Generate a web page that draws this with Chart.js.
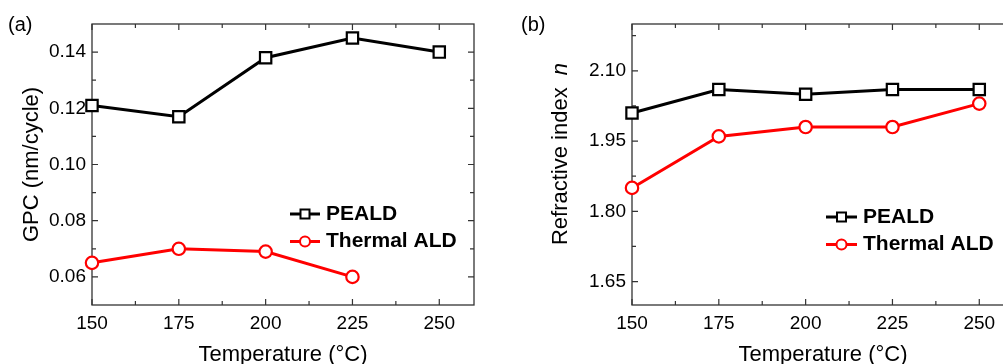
<!DOCTYPE html>
<html><head><meta charset="utf-8">
<script src="https://cdn.jsdelivr.net/npm/chart.js@4.4.0/dist/chart.umd.min.js"></script>
<style>
html,body{margin:0;padding:0;background:#fff;width:1003px;height:364px;overflow:hidden;position:relative;font-family:"Liberation Sans",Arial,sans-serif;}
#a{position:absolute;left:0;top:0;width:500px;height:364px;}
#b{position:absolute;left:500px;top:0;width:560px;height:364px;}
.lab{position:absolute;font-size:20px;color:#000;line-height:20px;}
</style></head><body>
<div id="a"><canvas id="ca" width="500" height="364"></canvas></div>
<div id="b"><canvas id="cb" width="560" height="364"></canvas></div>
<div class="lab" style="left:8px;top:14px">(a)</div>
<div class="lab" style="left:521px;top:14px">(b)</div>
<script>
// ---- data ----
const temperatures = [150, 175, 200, 225, 250];
const seriesNames = ['PEALD', 'Thermal ALD'];
const gpcPEALD = [0.121, 0.117, 0.138, 0.145, 0.140];
const gpcThermal = [0.065, 0.070, 0.069, 0.060, null];
const nPEALD = [2.01, 2.06, 2.05, 2.06, 2.06];
const nThermal = [1.85, 1.96, 1.98, 1.98, 2.03];
const xTicks = [150, 175, 200, 225, 250];
const xMinor = [162.5, 187.5, 212.5, 237.5];
const gpcTicks = [0.06, 0.08, 0.10, 0.12, 0.14];
const gpcMinor = [0.07, 0.09, 0.11, 0.13];
const nTicks = [1.65, 1.80, 1.95, 2.10];
const nMinor = [1.725, 1.875, 2.025, 2.175];

const FONT = '"Liberation Sans", Arial, sans-serif';

const frameTicks = {
  id: 'frameTicks',
  beforeDatasetsDraw(chart, args, o) {
    const {ctx, chartArea: a} = chart;
    const xs = chart.scales.x, ys = chart.scales.y;
    ctx.save();
    ctx.strokeStyle = '#333';
    ctx.lineWidth = 1.3;
    ctx.strokeRect(a.left, a.top, a.right - a.left, a.bottom - a.top);
    ctx.lineWidth = 1.2;
    const tick = (arr, len, horiz) => arr.forEach(v => {
      ctx.beginPath();
      if (horiz) {
        const p = xs.getPixelForValue(v);
        ctx.moveTo(p, a.bottom); ctx.lineTo(p, a.bottom - len);
        ctx.moveTo(p, a.top); ctx.lineTo(p, a.top + len);
      } else {
        const p = ys.getPixelForValue(v);
        ctx.moveTo(a.left, p); ctx.lineTo(a.left + len, p);
        ctx.moveTo(a.right, p); ctx.lineTo(a.right - len, p);
      }
      ctx.stroke();
    });
    tick(o.xMajor, 6, true); tick(o.xMinor, 4, true);
    tick(o.yMajor, 6, false); tick(o.yMinor, 4, false);
    ctx.restore();
  }
};

const inLegend = {
  id: 'inLegend',
  afterDraw(chart, args, o) {
    const ctx = chart.ctx;
    chart.data.datasets.forEach((ds, i) => {
      const y = o.rows[i];
      const cx = (o.x0 + o.x1) / 2;
      ctx.save();
      ctx.strokeStyle = ds.borderColor; ctx.lineWidth = 3;
      ctx.beginPath(); ctx.moveTo(o.x0, y); ctx.lineTo(o.x1, y); ctx.stroke();
      ctx.fillStyle = '#fff'; ctx.lineWidth = 2;
      ctx.beginPath();
      if (ds.pointStyle === 'rect') ctx.rect(cx - 4.5, y - 4.5, 9, 9);
      else ctx.arc(cx, y, 5, 0, Math.PI * 2);
      ctx.fill(); ctx.stroke();
      ctx.fillStyle = '#000';
      ctx.font = 'bold 21px ' + FONT;
      ctx.textBaseline = 'middle'; ctx.textAlign = 'left';
      ctx.fillText(ds.label, o.tx, y);
      ctx.restore();
    });
  }
};

const mixedTitle = {
  id: 'mixedTitle',
  afterDraw(chart, args, o) {
    if (!o.parts) return;
    const ctx = chart.ctx;
    ctx.save();
    ctx.fillStyle = '#000';
    ctx.textBaseline = 'middle'; ctx.textAlign = 'left';
    const widths = o.parts.map(p => { ctx.font = p.font; return ctx.measureText(p.text).width; });
    const w = widths.reduce((s, v) => s + v, 0);
    ctx.translate(o.x, o.y);
    ctx.rotate(-Math.PI / 2);
    let x = -w / 2;
    o.parts.forEach((p, i) => { ctx.font = p.font; ctx.fillText(p.text, x, 0); x += widths[i]; });
    ctx.restore();
  }
};

function makeDatasets(a, b) {
  return [
    {label: seriesNames[0], data: temperatures.map((t, i) => ({x: t, y: a[i]})),
     borderColor: '#000', backgroundColor: '#fff', borderWidth: 3,
     pointStyle: 'rect', pointRadius: 8, pointBorderWidth: 2.2, pointBackgroundColor: '#fff',
     clip: false, spanGaps: false},
    {label: seriesNames[1], data: temperatures.map((t, i) => ({x: t, y: b[i]})),
     borderColor: '#ff0000', backgroundColor: '#fff', borderWidth: 3,
     pointStyle: 'circle', pointRadius: 6.2, pointBorderWidth: 2.2, pointBackgroundColor: '#fff',
     clip: false, spanGaps: false}
  ];
}

function makeOptions(cfg) {
  return {
    responsive: false, animation: false, devicePixelRatio: 1,
    layout: {padding: {left: 0, right: cfg.padRight, top: 24, bottom: 0}},
    plugins: {
      legend: {display: false}, tooltip: {enabled: false},
      frameTicks: {xMajor: xTicks, xMinor: xMinor, yMajor: cfg.yTicks, yMinor: cfg.yMinor},
      inLegend: cfg.legend,
      mixedTitle: cfg.mixedTitle || {}
    },
    scales: {
      x: {
        type: 'linear', min: 150, max: 260,
        afterBuildTicks: s => { s.ticks = xTicks.map(v => ({value: v})); },
        afterFit: s => { s.height = 59; },
        grid: {display: false, drawTicks: false}, border: {display: false},
        ticks: {color: '#000', font: {family: FONT, size: 19}, padding: 7, maxRotation: 0, autoSkip: false,
                callback: v => String(v)},
        title: {display: true, text: 'Temperature (°C)', color: '#000',
                font: {family: FONT, size: 22, lineHeight: 1}, padding: {top: 0, bottom: -2}}
      },
      y: {
        type: 'linear', min: cfg.yMin, max: cfg.yMax,
        afterBuildTicks: s => { s.ticks = cfg.yTicks.map(v => ({value: v})); },
        afterFit: s => { s.width = cfg.yWidth; },
        grid: {display: false, drawTicks: false}, border: {display: false},
        ticks: {color: '#000', font: {family: FONT, size: 19}, padding: 6, autoSkip: false,
                callback: v => v.toFixed(2)},
        title: cfg.yTitle
      }
    }
  };
}

new Chart(document.getElementById('ca'), {
  type: 'line',
  data: {datasets: makeDatasets(gpcPEALD, gpcThermal)},
  options: makeOptions({
    padRight: 26, yMin: 0.05, yMax: 0.15, yTicks: gpcTicks, yMinor: gpcMinor, yWidth: 92,
    legend: {x0: 290, x1: 320, tx: 326, rows: [214, 241.5]},
    yTitle: {display: true, text: 'GPC (nm/cycle)', color: '#000',
             font: {family: FONT, size: 22, lineHeight: 1}, padding: {top: 21, bottom: 0}}
  }),
  plugins: [frameTicks, inLegend, mixedTitle]
});

new Chart(document.getElementById('cb'), {
  type: 'line',
  data: {datasets: makeDatasets(nPEALD, nThermal)},
  options: makeOptions({
    padRight: 46, yMin: 1.60, yMax: 2.20, yTicks: nTicks, yMinor: nMinor, yWidth: 132,
    legend: {x0: 326, x1: 357, tx: 363, rows: [217, 244.5]},
    yTitle: {display: false},
    mixedTitle: {x: 61, y: 154, parts: [
      {text: 'Refractive index  ', font: '22px ' + FONT},
      {text: 'n', font: 'italic 22px ' + FONT}
    ]}
  }),
  plugins: [frameTicks, inLegend, mixedTitle]
});
</script>
</body></html>
